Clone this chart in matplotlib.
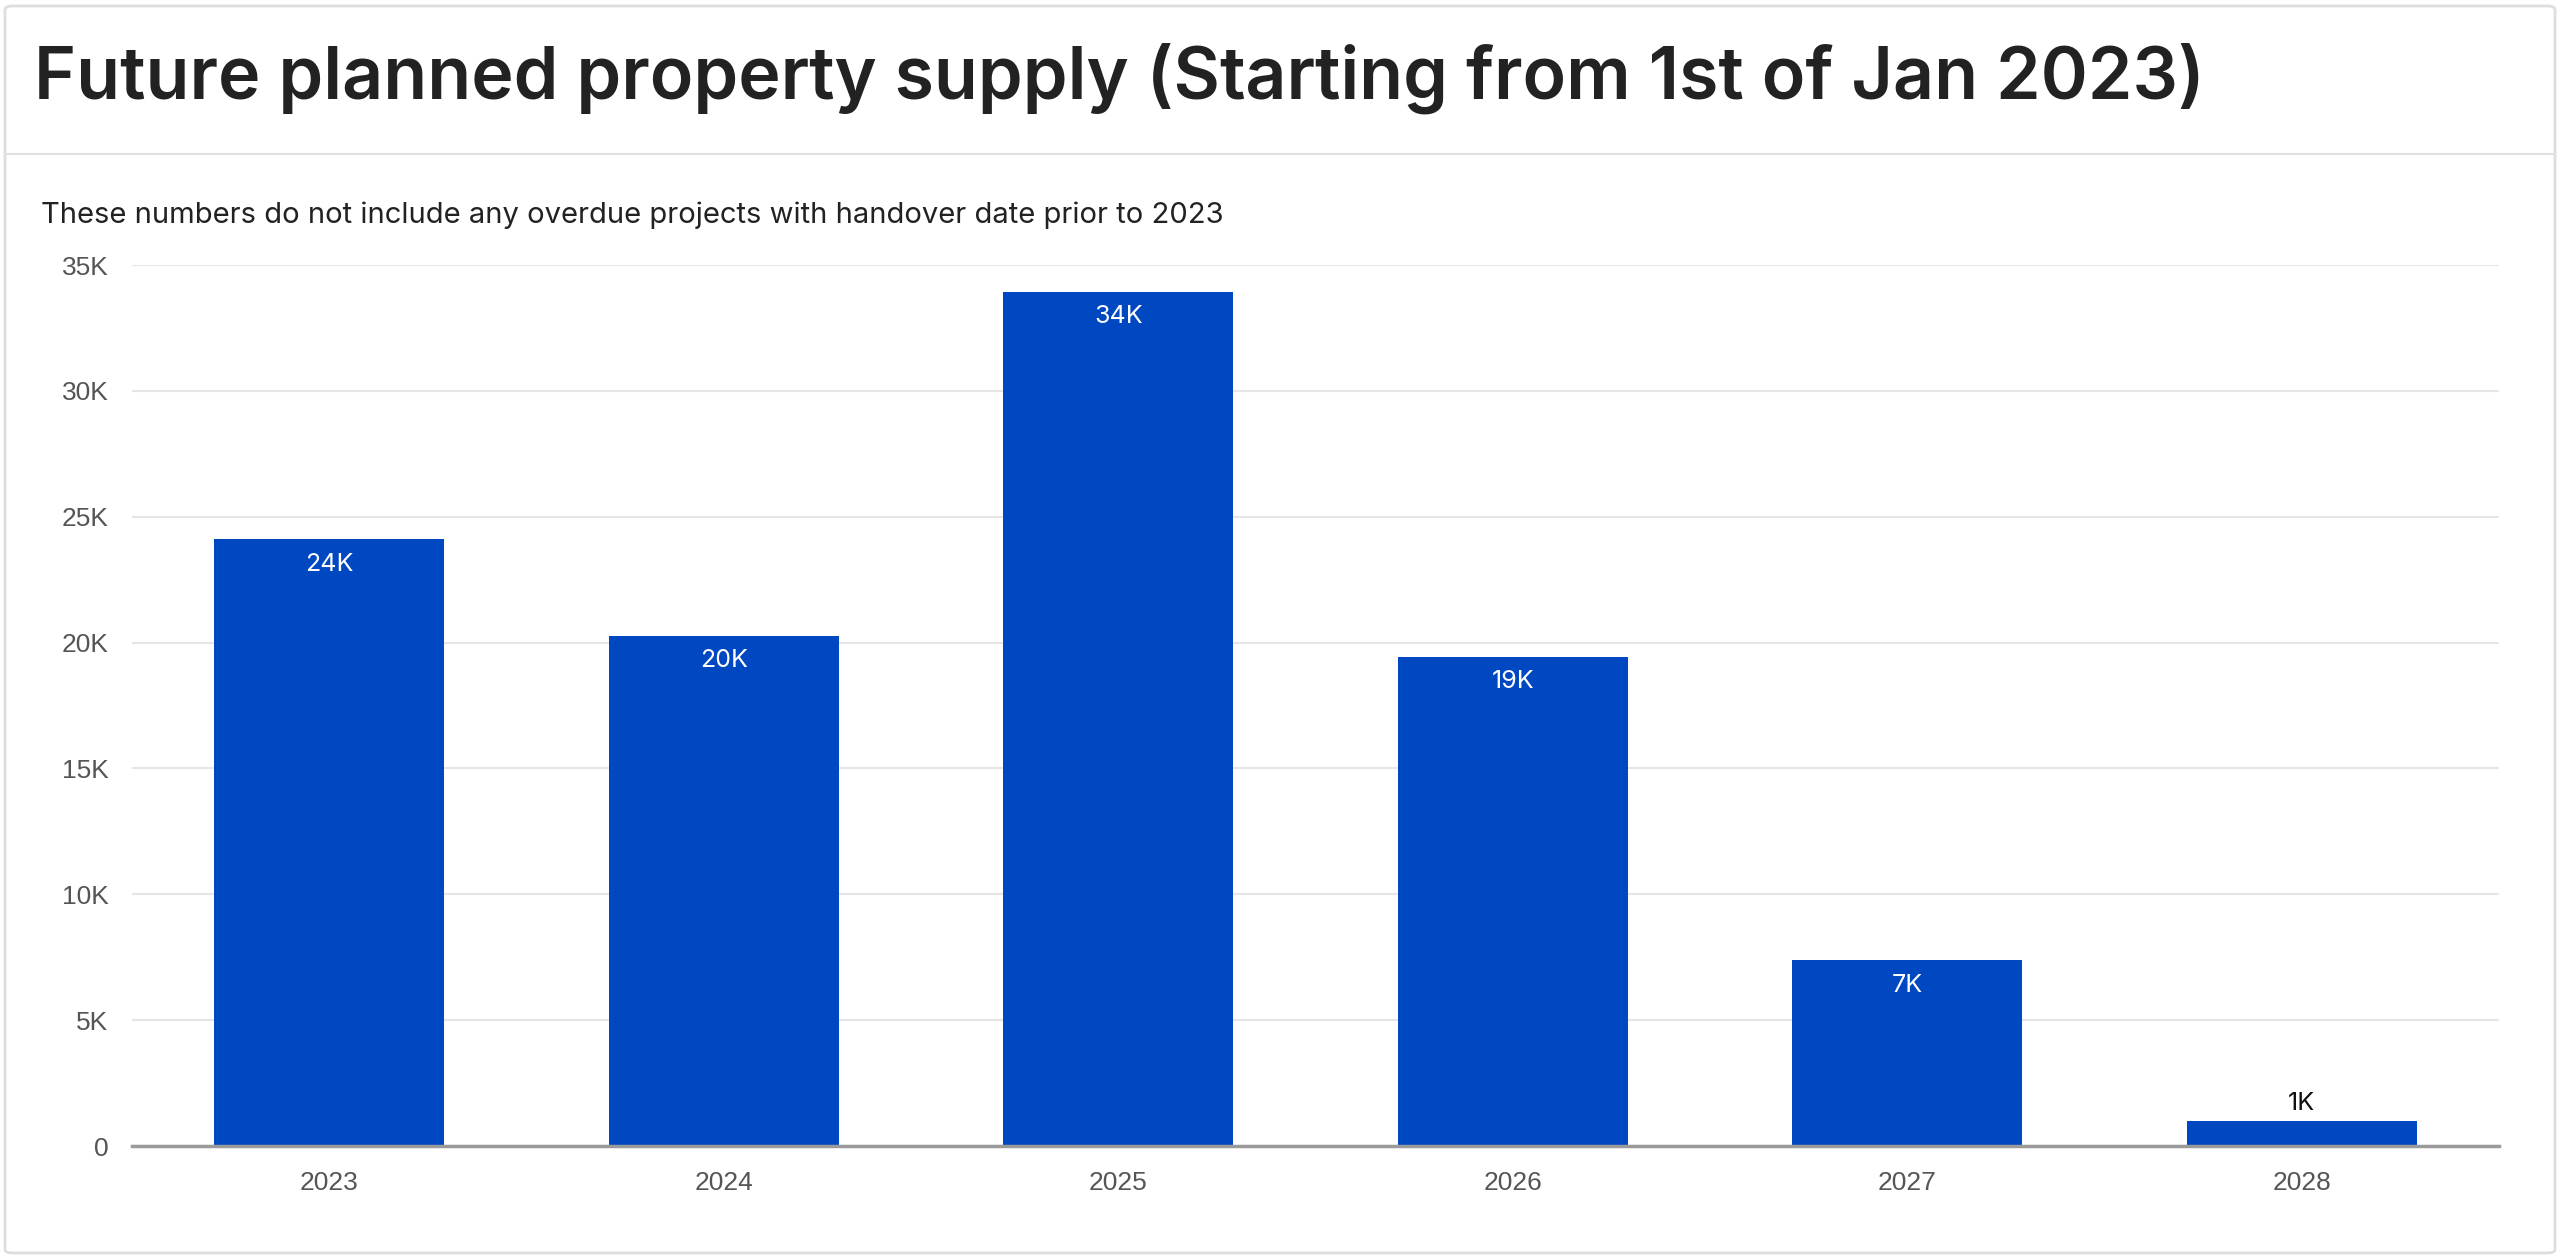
import matplotlib
matplotlib.use('Agg')
import matplotlib.pyplot as plt
from matplotlib.patches import FancyBboxPatch
from matplotlib.lines import Line2D
from matplotlib.ticker import FuncFormatter

years = ['2023', '2024', '2025', '2026', '2027', '2028']
supply = [24100, 20280, 33940, 19430, 7370, 990]
bar_labels = ['24K', '20K', '34K', '19K', '7K', '1K']
y_ticks = [0, 5000, 10000, 15000, 20000, 25000, 30000, 35000]

title = 'Future planned property supply (Starting from 1st of Jan 2023)'
subtitle = 'These numbers do not include any overdue projects with handover date prior to 2023'

W, H = 2560, 1258
fig = plt.figure(figsize=(W / 100, H / 100), dpi=100)
fig.patch.set_facecolor('white')

# card border and header separator
card = FancyBboxPatch((5 / W, 5 / H), 2550 / W, 1247 / H,
                      boxstyle='round,pad=0,rounding_size=0.003',
                      transform=fig.transFigure, facecolor='none',
                      edgecolor='#dedede', linewidth=2)
fig.patches.append(card)
fig.lines.append(Line2D([5 / W, 2555 / W], [1 - 154 / H, 1 - 154 / H],
                        transform=fig.transFigure, color='#e2e2e2', linewidth=1.5))

fig.text(34 / W, 1 - 99 / H, title, fontsize=51.6, fontfamily='Inter',
         fontweight='semibold', color='#222222', va='baseline', ha='left')
fig.text(41 / W, 1 - 223 / H, subtitle, fontsize=21, fontfamily='Inter',
         color='#222222', va='baseline', ha='left')

ax = fig.add_axes([132 / W, 1 - 1146 / H, (2499 - 132) / W, (1146 - 265) / H])
x = range(len(years))
bars = ax.bar(x, supply, width=0.582, color='#0047c2', zorder=3)

ax.set_xlim(-0.5, len(years) - 0.5)
ax.set_ylim(0, 35000)
ax.set_yticks(y_ticks)
ax.yaxis.set_major_formatter(FuncFormatter(lambda v, p: '0' if v == 0 else f'{int(v / 1000)}K'))
ax.set_xticks(list(x))
ax.set_xticklabels(years)

ax.grid(axis='y', color='#e6e6e6', linewidth=1.5, zorder=0)
for s in ['top', 'right', 'left']:
    ax.spines[s].set_visible(False)
ax.spines['bottom'].set_color('#9a9a9a')
ax.spines['bottom'].set_linewidth(2.5)
ax.spines['bottom'].set_zorder(4)

ax.tick_params(axis='y', length=0, pad=17, labelsize=19, labelcolor='#555555')
ax.tick_params(axis='x', length=0, pad=18, labelsize=19, labelcolor='#555555')
for lbl in ax.get_xticklabels() + ax.get_yticklabels():
    lbl.set_fontfamily('Liberation Sans')

for b, val, txt in zip(bars, supply, bar_labels):
    cx = b.get_x() + b.get_width() / 2
    if val > 3000:
        ax.annotate(txt, (cx, val), xytext=(0, -18), textcoords='offset points',
                    ha='center', va='center', color='white', fontsize=18,
                    fontfamily='Inter', zorder=5)
    else:
        ax.annotate(txt, (cx, val), xytext=(0, 13), textcoords='offset points',
                    ha='center', va='center', color='#111111', fontsize=18,
                    fontfamily='Inter', zorder=5)

fig.savefig('out.png', dpi=100)
